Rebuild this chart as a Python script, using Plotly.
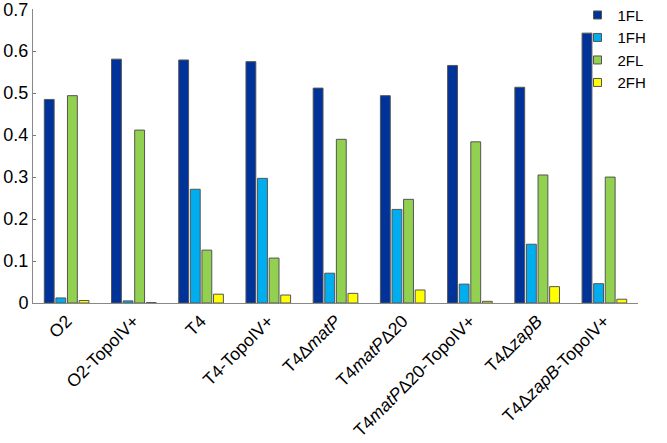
import plotly.graph_objects as go

categories = ["O2", "O2-TopoIV+", "T4", "T4-TopoIV+", "T4ΔmatP", "T4matPΔ20",
              "T4matPΔ20-TopoIV+", "T4ΔzapB", "T4ΔzapB-TopoIV+"]
tick_labels = ["O2", "O2-TopoIV+", "T4", "T4-TopoIV+", "T4Δ<i>matP</i>", "T4<i>matP</i>Δ20",
               "T4<i>matP</i>Δ20-TopoIV+", "T4Δ<i>zapB</i>", "T4Δ<i>zapB</i>-TopoIV+"]
series_names = ["1FL", "1FH", "2FL", "2FH"]
v_1FL = [0.485, 0.581, 0.579, 0.575, 0.512, 0.494, 0.566, 0.514, 0.643]
v_1FH = [0.012, 0.005, 0.271, 0.297, 0.071, 0.223, 0.045, 0.140, 0.046]
v_2FL = [0.494, 0.412, 0.126, 0.107, 0.390, 0.247, 0.384, 0.305, 0.300]
v_2FH = [0.006, 0.001, 0.021, 0.019, 0.023, 0.031, 0.004, 0.039, 0.009]
y_ticks = [0, 0.1, 0.2, 0.3, 0.4, 0.5, 0.6, 0.7]
y_tick_text = ["0", "0.1", "0.2", "0.3", "0.4", "0.5", "0.6", "0.7"]
colors = ["#003399", "#00AEEF", "#92D050", "#FFFF00"]
edge = "#555555"

fig = go.Figure()
for name, vals, col in zip(series_names, [v_1FL, v_1FH, v_2FL, v_2FH], colors):
    fig.add_trace(go.Bar(x=categories, y=vals, name=name, showlegend=False,
                         marker=dict(color=col, line=dict(color=edge, width=1))))
# legend entries with small square swatches
for name, col in zip(series_names, colors):
    fig.add_trace(go.Scatter(x=[None], y=[None], mode="markers", name=name,
                             marker=dict(symbol="square", size=8, color=col,
                                         line=dict(color=edge, width=1))))

fig.update_layout(
    width=667, height=443,
    margin=dict(l=33, r=29, t=9, b=140, autoexpand=False),
    paper_bgcolor="white", plot_bgcolor="white",
    barmode="group", bargap=0.31, bargroupgap=0.15,
    font=dict(family="Liberation Sans, Arial, sans-serif", size=16, color="black"),
    legend=dict(x=0.9, y=1.035, xanchor="left", yanchor="top",
                bgcolor="rgba(0,0,0,0)", font=dict(size=15),
                itemwidth=30, tracegroupgap=0),
    showlegend=True,
)
fig.update_xaxes(
    tickmode="array", tickvals=categories, ticktext=tick_labels,
    tickangle=-45, tickfont=dict(size=17.5),
    showline=True, linecolor="#888888", linewidth=1,
    ticks="", showgrid=False, zeroline=False, automargin=False,
)
fig.update_yaxes(
    range=[0, 0.7005], tickmode="array", tickvals=y_ticks, ticktext=y_tick_text,
    showline=True, linecolor="#888888", linewidth=1,
    ticks="inside", ticklen=3, tickcolor="#777777", ticklabeloverflow="allow",
    showgrid=False, zeroline=False, tickfont=dict(size=18), automargin=False,
)

fig.write_html("out.html", config={"displayModeBar": False},
               post_script="document.body.style.margin='0';document.body.style.overflow='hidden';")
